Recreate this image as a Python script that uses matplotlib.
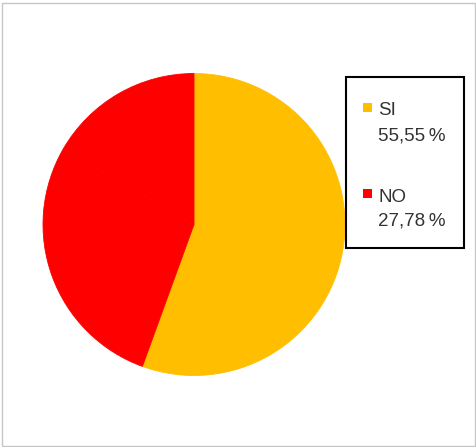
import matplotlib
matplotlib.use('Agg')
import matplotlib.pyplot as plt
from matplotlib.patches import Rectangle

# survey answers (percent of respondents)
labels = ['SI', 'NO', '']
shares = [55.55, 27.78, 16.67]
colors = ['#FFBF00', '#FF0000', '#FF0000']
legend_labels = ['SI', 'NO']
legend_texts = ['55,55\u202f%', '27,78\u202f%']

W, H = 477, 447
fig = plt.figure(figsize=(W / 100, H / 100), dpi=100)
plt.rcParams['font.family'] = ['Liberation Sans', 'DejaVu Sans']


def fx(px):
    return px / W


def fy(py):
    return 1 - py / H


# light grey frame round the whole chart
fig.patches.append(Rectangle((fx(1.5), fy(445.5)), fx(474), 443 / H, transform=fig.transFigure,
                             fill=False, edgecolor='#c6c6c6', linewidth=1))

ax = fig.add_axes([fx(43), fy(376), fx(302), 303 / H])
wedges, _ = ax.pie(shares, colors=colors, startangle=90, counterclock=False, radius=1,
                   wedgeprops=dict(linewidth=0))
# paint the edges in the wedge colour so touching red wedges show no seam
for w, c in zip(wedges, colors):
    w.set_edgecolor(c)
    w.set_linewidth(0.6)
ax.set_xlim(-1, 1)
ax.set_ylim(-1, 1)
ax.set_aspect('equal')
ax.axis('off')

# legend box
fig.patches.append(Rectangle((fx(346.5), fy(248)), fx(118), 171 / H, transform=fig.transFigure,
                             fill=False, edgecolor='black', linewidth=1.5))
rows = [(107, 115, 140), (193, 202, 225)]
for i, (my, y1, y2) in enumerate(rows):
    fig.patches.append(Rectangle((fx(363.5), fy(my + 4.5)), fx(9), 9 / H, transform=fig.transFigure,
                                 facecolor=colors[i], edgecolor='none'))
    fig.text(fx(378), fy(y1), legend_labels[i], fontsize=13.5, color='#333333', va='baseline')
    fig.text(fx(378), fy(y2), legend_texts[i], fontsize=13.5, color='#333333', va='baseline')

fig.savefig('out.png', dpi=100)
